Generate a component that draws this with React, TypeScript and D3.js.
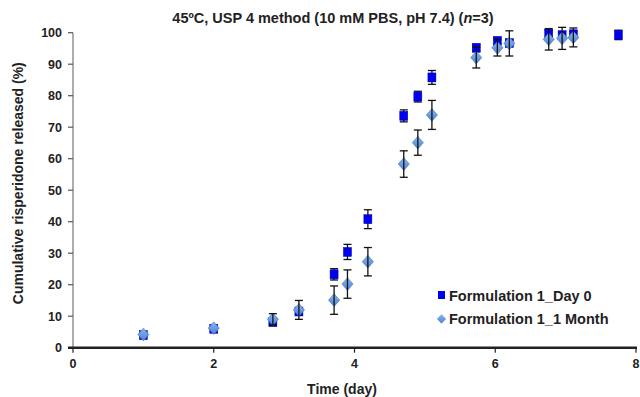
import React from "react";
import * as d3 from "d3";

const times = [1, 2, 2.84, 3.21, 3.71, 3.9, 4.19, 4.7, 4.9, 5.1, 5.73, 6.03, 6.2, 6.76, 6.95, 7.11, 7.75];
const day0Values = [4, 6, 8.1, 11.5, 23.3, 30.4, 40.8, 73.6, 79.7, 85.8, 95.2, 97.4, 96.7, 99.7, 99.2, 99.5, 99.3];
const day0Errors = [0.3, 0.3, 1, 1, 1.8, 2.4, 3, 1.9, 1.7, 2.2, 1, 1, 1, 1, 1, 1, 1.5];
const monthTimes = [1, 2, 2.84, 3.21, 3.71, 3.9, 4.19, 4.7, 4.9, 5.1, 5.73, 6.03, 6.2, 6.76, 6.95, 7.11];
const monthValues = [4.2, 6.2, 9.0, 12.0, 15.1, 20.2, 27.3, 58.3, 65.1, 73.9, 92.1, 95.2, 96.6, 97.9, 98.2, 98.5];
const monthErrors = [0, 0, 1.8, 3, 4.5, 4.5, 4.5, 4.2, 4, 4.6, 3.3, 2.6, 4, 3.4, 3.5, 3];
const xTicks = [0, 2, 4, 6, 8];
const yTicks = [0, 10, 20, 30, 40, 50, 60, 70, 80, 90, 100];
const seriesNames = ["Formulation 1_Day 0", "Formulation 1_1 Month"];

const W = 640;
const H = 397;
const font = "'Liberation Sans', Arial, sans-serif";

export default function App() {
  const x = d3.scaleLinear().domain([0, 8]).range([73, 636]);
  const y = d3.scaleLinear().domain([0, 100]).range([347.7, 32.7]);
  const day0 = times.map((t, i) => ({ t, v: day0Values[i], e: day0Errors[i] }));
  const month = monthTimes.map((t, i) => ({ t, v: monthValues[i], e: monthErrors[i] }));
  const diamond = d3.symbol().type(d3.symbolDiamond2).size(88)();
  const diamondSmall = d3.symbol().type(d3.symbolDiamond2).size(46)();
  const cap = 4;

  const errBar = (d: { t: number; v: number; e: number }, i: number) => {
    if (!d.e) return null;
    const cx = x(d.t);
    const y1 = y(d.v + d.e);
    const y2 = y(d.v - d.e);
    return (
      <g key={i} stroke="#111" strokeWidth={1.3}>
        <line x1={cx} x2={cx} y1={y1} y2={y2} />
        <line x1={cx - cap} x2={cx + cap} y1={y1} y2={y1} />
        <line x1={cx - cap} x2={cx + cap} y1={y2} y2={y2} />
      </g>
    );
  };

  return (
    <svg width={W} height={H} style={{ position: "absolute", left: 0, top: 0, background: "#fff" }} fontFamily={font}>
      <defs>
        <linearGradient id="dg" x1="0" y1="0" x2="0" y2="1">
          <stop offset="0" stopColor="#8cb6ee" />
          <stop offset="1" stopColor="#4d82d0" />
        </linearGradient>
      </defs>
      {/* title */}
      <text x={333} y={23} textAnchor="middle" fontSize={14.5} fontWeight="bold" fill="#222">
        45ºC, USP 4 method (10 mM PBS, pH 7.4) (<tspan fontStyle="italic">n</tspan>=3)
      </text>
      {/* y axis */}
      <line x1={x(0)} x2={x(0)} y1={y(100)} y2={y(0)} stroke="#777" strokeWidth={1.2} />
      {yTicks.map((v) => (
        <g key={v}>
          <line x1={x(0) - 5} x2={x(0)} y1={y(v)} y2={y(v)} stroke="#555" strokeWidth={1.2} />
          <text x={x(0) - 11} y={y(v) + 4.5} textAnchor="end" fontSize={12.5} fontWeight="bold" fill="#222">
            {v}
          </text>
        </g>
      ))}
      {/* x axis */}
      <line x1={x(0) - 5} x2={x(8) + 1} y1={y(0)} y2={y(0)} stroke="#222" strokeWidth={2.4} />
      {xTicks.map((t) => (
        <g key={t}>
          <line x1={x(t)} x2={x(t)} y1={y(0)} y2={y(0) + 5} stroke="#222" strokeWidth={1.2} />
          <text x={x(t)} y={y(0) + 20} textAnchor="middle" fontSize={12.5} fontWeight="bold" fill="#222">
            {t}
          </text>
        </g>
      ))}
      <text x={342} y={394} textAnchor="middle" fontSize={14} fontWeight="bold" fill="#222">
        Time (day)
      </text>
      <text
        transform={`translate(23, ${y(50) - 7}) rotate(-90)`}
        textAnchor="middle"
        fontSize={14}
        fontWeight="bold"
        fill="#222"
      >
        Cumulative risperidone released (%)
      </text>
      {/* Day 0 series */}
      <g>{day0.map(errBar)}</g>
      {day0.map((d, i) => (
        <rect key={i} x={x(d.t) - 4} y={y(d.v) - 4.5} width={8} height={9} fill="#0000f0" stroke="#0000b0" strokeWidth={0.5} />
      ))}
      {/* 1 Month series */}
      {month.map((d, i) => (
        <path key={i} d={diamond} transform={`translate(${x(d.t)},${y(d.v)}) scale(0.95,1.08)`} fill="url(#dg)" stroke="#4677c0" strokeWidth={0.6} />
      ))}
      <g>{month.map(errBar)}</g>
      {/* legend */}
      <rect x={438} y={291} width={7} height={8} fill="#0000f0" />
      <text x={449} y={301} fontSize={14.5} fontWeight="bold" fill="#222">
        {seriesNames[0]}
      </text>
      <path d={diamondSmall} transform="translate(441.5,319)" fill="url(#dg)" stroke="#4677c0" strokeWidth={0.5} />
      <text x={449} y={324} fontSize={14.5} fontWeight="bold" fill="#222">
        {seriesNames[1]}
      </text>
    </svg>
  );
}
